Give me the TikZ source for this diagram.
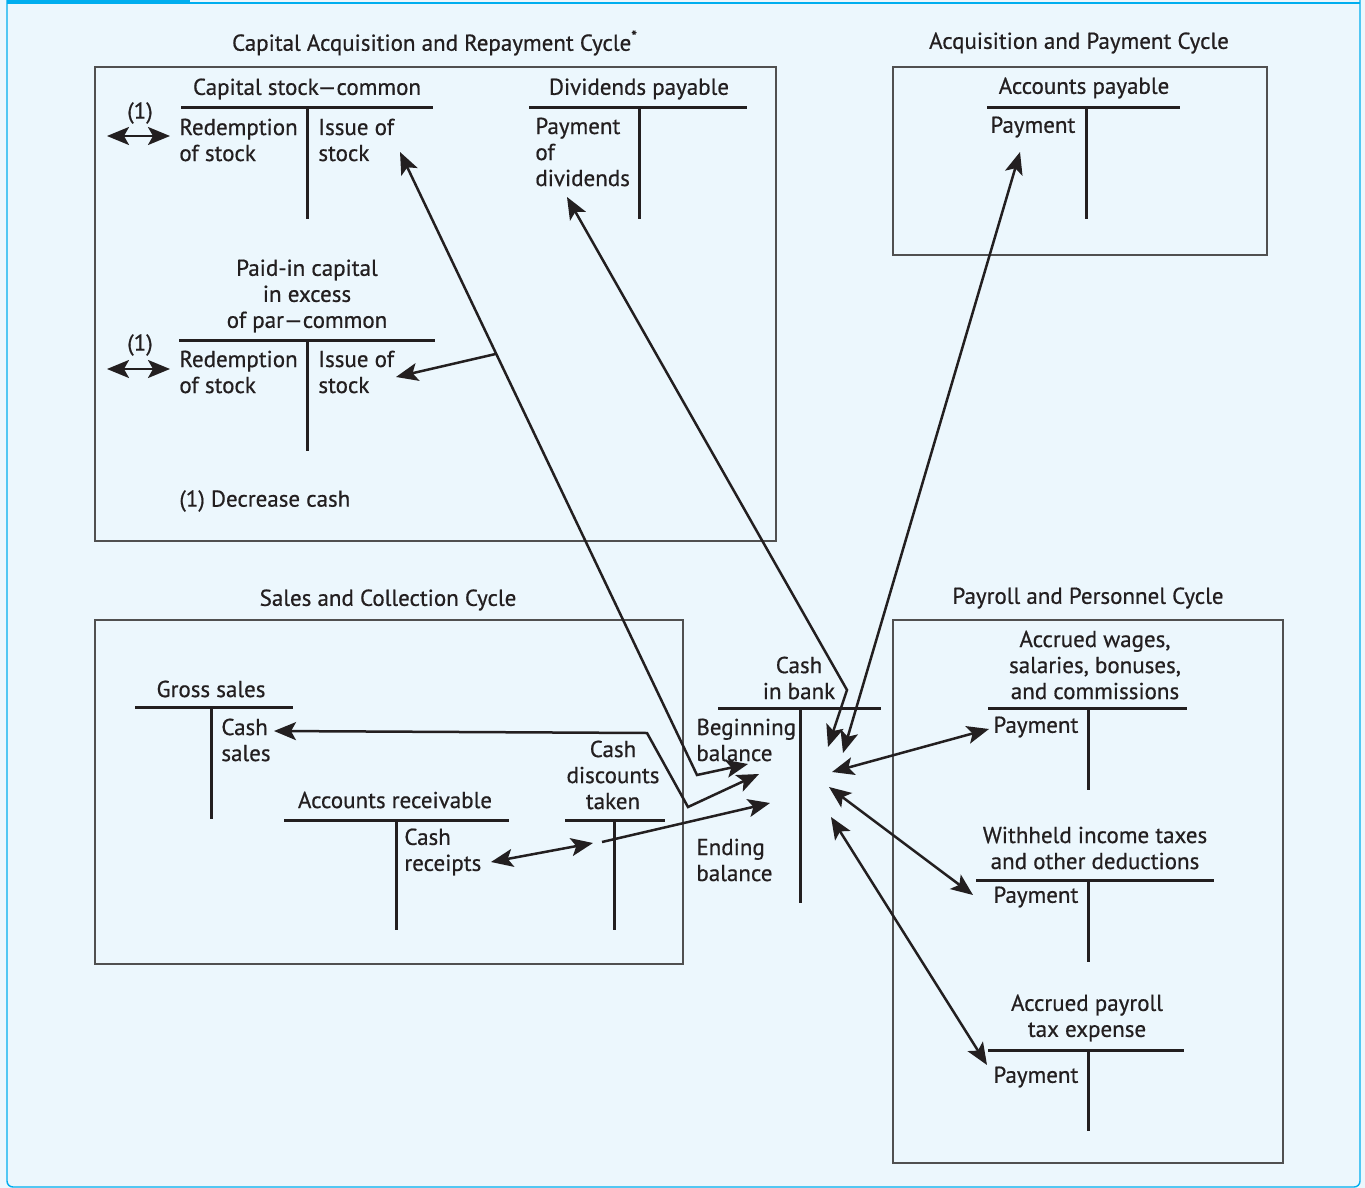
\documentclass[tikz,border=0pt]{standalone}
\usepackage{fontspec}
\setmainfont{PT Sans}[FakeBold=0.6]
\usepackage{tikz}
\usetikzlibrary{arrows.meta}
\definecolor{panelblue}{RGB}{236,247,253}
\definecolor{framecyan}{RGB}{0,174,239}
\definecolor{boxgray}{RGB}{80,80,80}
\definecolor{inkblack}{RGB}{35,31,32}
\tikzset{
    flowtip/.tip={Stealth[length=11pt,width=9pt,inset=2.5pt]},
    oneway/.style={-{flowtip}},
    twoway/.style={{flowtip}-{flowtip}}
}

\begin{document}
\begin{tikzpicture}[x=0.5pt, y=-0.5pt,
    txt/.style={font=\fontsize{11.5}{13}\selectfont, inner sep=0pt, text=inkblack},
    lefttxt/.style={txt, anchor=west, align=left},
    midtxt/.style={txt, align=center},
    cyclebox/.style={draw=boxgray, line width=0.7pt},
    rule/.style={draw=inkblack, line width=1.5pt},
    flow/.style={draw=inkblack, line width=1.25pt}]
                % Panel
                \fill[panelblue] (0,0) rectangle (1365,1188);
                \useasboundingbox (0,0) rectangle (1365,1188);
                \draw[framecyan, line width=0.7pt, rounded corners=3pt] (7,0) -- (7,1187) -- (1360,1187) -- (1360,0);
                \draw[framecyan, line width=0.6pt] (190,3) -- (1360,3);
                \fill[framecyan] (7,0) rectangle (190,4);
                
                % Cycle boxes
                \draw[cyclebox] (95,67) rectangle (776,541);
                \node[midtxt] (capcycle) at (435,43) {Capital Acquisition and Repayment Cycle\textsuperscript{*}};
                \draw[cyclebox] (893,67) rectangle (1267,255);
                \node[midtxt] (acqcycle) at (1079,43) {Acquisition and Payment Cycle};
                \draw[cyclebox] (95,620) rectangle (683,964);
                \node[midtxt] (salescycle) at (388,600) {Sales and Collection Cycle};
                \draw[cyclebox] (893,620) rectangle (1283,1163);
                \node[midtxt] (paycycle) at (1088,598) {Payroll and Personnel Cycle};
                
                % Capital stock
                \node[midtxt] (cstock) at (307,89) {Capital stock---common};
                \draw[rule] (181,108) -- (433,108);
                \draw[rule] (307,108) -- (307,219);
                \node[lefttxt] (cstockdr) at (179,140) {Redemption\\of stock};
                \node[lefttxt] (cstockcr) at (318,140) {Issue of\\stock};
                \coordinate (redeemA1) at (107,136);
                \coordinate (redeemA2) at (170,136);
                \draw[flow, twoway] (redeemA1) -- (redeemA2);
                \node[txt] (noteA) at (140,113) {(1)};
                
                % Dividends payable
                \node[midtxt] (divpay) at (639,89) {Dividends payable};
                \draw[rule] (529,108) -- (747,108);
                \draw[rule] (639,108) -- (639,219);
                \node[lefttxt] (divpaydr) at (535,152) {Payment\\of\\dividends};
                
                % Paid-in capital
                \node[midtxt] (paidin) at (307,296) {Paid-in capital\\in excess\\of par---common};
                \draw[rule] (179,340) -- (435,340);
                \draw[rule] (307,340) -- (307,451);
                \node[lefttxt] (paidindr) at (179,372) {Redemption\\of stock};
                \node[lefttxt] (paidincr) at (318,372) {Issue of\\stock};
                \coordinate (redeemB1) at (107,369);
                \coordinate (redeemB2) at (170,369);
                \draw[flow, twoway] (redeemB1) -- (redeemB2);
                \node[txt] (noteB) at (140,345) {(1)};
                \node[lefttxt] (notekey) at (179,501) {(1) Decrease cash};
                
                % Accounts payable
                \node[midtxt] (acctpay) at (1084,88) {Accounts payable};
                \draw[rule] (987,108) -- (1180,108);
                \draw[rule] (1086,108) -- (1086,219);
                \node[lefttxt] (acctpaydr) at (990,127) {Payment};
                
                % Gross sales
                \node[midtxt] (gsales) at (211,689) {Gross sales};
                \draw[rule] (135,707) -- (293,707);
                \draw[rule] (211,707) -- (211,819);
                \node[lefttxt] (gsalescr) at (221,740) {Cash\\sales};
                
                % Accounts receivable
                \node[midtxt] (acctrec) at (395,800) {Accounts receivable};
                \draw[rule] (284,820) -- (509,820);
                \draw[rule] (396,820) -- (396,930);
                \node[lefttxt] (acctreccr) at (404,852) {Cash\\receipts};
                
                % Cash discounts taken
                \node[midtxt] (discount) at (613,775) {Cash\\discounts\\taken};
                \draw[rule] (565,820) -- (665,820);
                \draw[rule] (614,820) -- (614,930);
                
                % Cash in bank
                \node[midtxt] (cash) at (799,678) {Cash\\in bank};
                \draw[rule] (718,708) -- (881,708);
                \draw[rule] (800,708) -- (800,903);
                \node[lefttxt] (cashbeg) at (696,740) {Beginning\\balance};
                \node[lefttxt] (cashend) at (696,860) {Ending\\balance};
                
                % Payroll accounts
                \node[midtxt] (wages) at (1095,665) {Accrued wages,\\salaries, bonuses,\\and commissions};
                \draw[rule] (988,708) -- (1187,708);
                \draw[rule] (1088,708) -- (1088,790);
                \node[lefttxt] (wagesdr) at (993,727) {Payment};
                
                \node[midtxt] (withheld) at (1095,848) {Withheld income taxes\\and other deductions};
                \draw[rule] (976,880) -- (1214,880);
                \draw[rule] (1088,880) -- (1088,962);
                \node[lefttxt] (withhelddr) at (993,897) {Payment};
                
                \node[midtxt] (paytax) at (1087,1018) {Accrued payroll\\tax expense};
                \draw[rule] (988,1050) -- (1184,1050);
                \draw[rule] (1088,1050) -- (1088,1131);
                \node[lefttxt] (paytaxdr) at (993,1077) {Payment};
                
                % Flows into cash
                \coordinate (cstockin) at (400,152);
                \coordinate (kneeA) at (697,775);
                \coordinate (cashinA) at (748,764);
                \draw[flow, twoway] (cstockin) -- coordinate[pos=0.324] (branch) (kneeA) -- (cashinA);
                \coordinate (paidinin) at (396,377);
                \draw[flow, oneway] (branch) -- (paidinin);
                
                \coordinate (salesin) at (274,731);
                \coordinate (kneeB) at (647,733);
                \coordinate (kneeC) at (688,807);
                \coordinate (cashinB) at (759,774);
                \draw[flow, twoway] (salesin) -- (kneeB) -- (kneeC) -- (cashinB);
                
                \coordinate (recin) at (491,862);
                \coordinate (discin) at (593,843);
                \draw[flow, twoway] (recin) -- (discin);
                \coordinate (discout) at (602,842);
                \coordinate (cashinC) at (770,803);
                \draw[flow, oneway] (discout) -- (cashinC);
                
                \coordinate (divin) at (567,197);
                \coordinate (kneeD) at (847,690);
                \coordinate (cashinD) at (828,747);
                \draw[flow, twoway] (divin) -- (kneeD) -- (cashinD);
                
                \coordinate (apin) at (1020,152);
                \coordinate (cashinE) at (843,753);
                \draw[flow, twoway] (apin) -- (cashinE);
                
                \coordinate (wagesin) at (989,729);
                \coordinate (cashinF) at (832,772);
                \draw[flow, twoway] (cashinF) -- (wagesin);
                
                \coordinate (withheldin) at (973,895);
                \coordinate (cashinG) at (829,787);
                \draw[flow, twoway] (cashinG) -- (withheldin);
                
                \coordinate (paytaxin) at (987,1065);
                \coordinate (cashinH) at (831,817);
                \draw[flow, twoway] (cashinH) -- (paytaxin);
            \end{tikzpicture}
\end{document}
